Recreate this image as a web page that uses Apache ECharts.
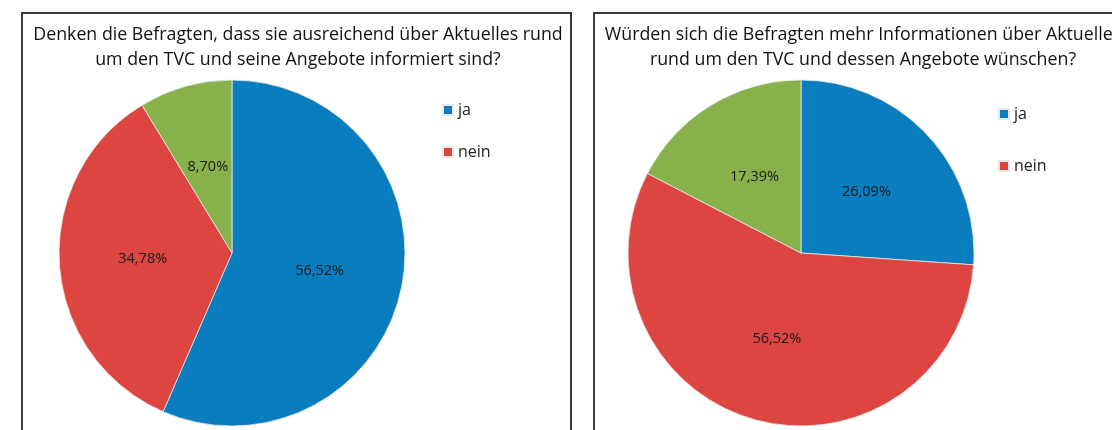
<!DOCTYPE html>
<html>
<head>
<meta charset="utf-8">
<script src="https://cdn.jsdelivr.net/npm/echarts@6/dist/echarts.min.js"></script>
<style>
  html, body { margin: 0; padding: 0; background: #fff; }
  #chart { width: 1112px; height: 430px; }
</style>
</head>
<body>
<div id="chart"></div>
<script>
// antwort-kategorien
var categories = ['ja', 'nein', 'keine Angabe'];
var legendItems = ['ja', 'nein'];
// prozentwerte links / rechts
var leftValues = [56.52, 34.78, 8.70];
var rightValues = [26.09, 56.52, 17.39];
var titles = [
  'Denken die Befragten, dass sie ausreichend über Aktuelles rund\num den TVC und seine Angebote informiert sind?',
  'Würden sich die Befragten mehr Informationen über Aktuelles\nrund um den TVC und dessen Angebote wünschen?'
];
var colors = ['#0a7dbe', '#dd4541', '#87b14a'];

function toData(vals) {
  return categories.map(function (c, i) {
    return { name: c, value: vals[i] };
  });
}

var font = '"Open Sans", "Noto Sans", sans-serif';

var chart = echarts.init(document.getElementById('chart'));
var option = {
  backgroundColor: '#fff',
  color: colors,
  animation: false,
  title: [
    {
      text: titles[0], left: 293, top: 17, textAlign: 'center',
      textStyle: { fontFamily: font, fontSize: 17.8, fontWeight: 'normal', color: '#111', lineHeight: 25 }
    },
    {
      text: titles[1], left: 858, top: 17, textAlign: 'center',
      textStyle: { fontFamily: font, fontSize: 17.8, fontWeight: 'normal', color: '#111', lineHeight: 25 }
    }
  ],
  legend: [
    {
      data: legendItems, orient: 'vertical', left: 437, top: 97,
      itemWidth: 10, itemHeight: 10, itemGap: 26, icon: 'rect',
      textStyle: { fontFamily: font, fontSize: 16, color: '#222' }
    },
    {
      data: legendItems, orient: 'vertical', left: 993, top: 101,
      itemWidth: 10, itemHeight: 10, itemGap: 36, icon: 'rect',
      textStyle: { fontFamily: font, fontSize: 16, color: '#222' }
    }
  ],
  graphic: [
    { type: 'rect', shape: { x: 22, y: 13, width: 549, height: 430 }, style: { fill: 'none', stroke: '#3a3a3a', lineWidth: 2 } },
    { type: 'rect', shape: { x: 594, y: 13, width: 540, height: 430 }, style: { fill: 'none', stroke: '#3a3a3a', lineWidth: 2 } }
  ],
  series: [
    {
      type: 'pie', center: [232, 253], radius: 173, startAngle: 90, clockwise: true,
      data: toData(leftValues),
      itemStyle: { borderColor: '#e8e8e8', borderWidth: 0.8 },
      label: {
        position: 'inside', fontFamily: font, fontSize: 14.5, color: '#1a1a1a',
        formatter: function (p) { return p.value.toFixed(2).replace('.', ',') + '%'; }
      },
      labelLine: { show: false },
      emphasis: { disabled: true }
    },
    {
      type: 'pie', center: [801, 253], radius: 173, startAngle: 90, clockwise: true,
      data: toData(rightValues),
      itemStyle: { borderColor: '#e8e8e8', borderWidth: 0.8 },
      label: {
        position: 'inside', fontFamily: font, fontSize: 14.5, color: '#1a1a1a',
        formatter: function (p) { return p.value.toFixed(2).replace('.', ',') + '%'; }
      },
      labelLine: { show: false },
      emphasis: { disabled: true }
    }
  ]
};
chart.setOption(option);
</script>
</body>
</html>
